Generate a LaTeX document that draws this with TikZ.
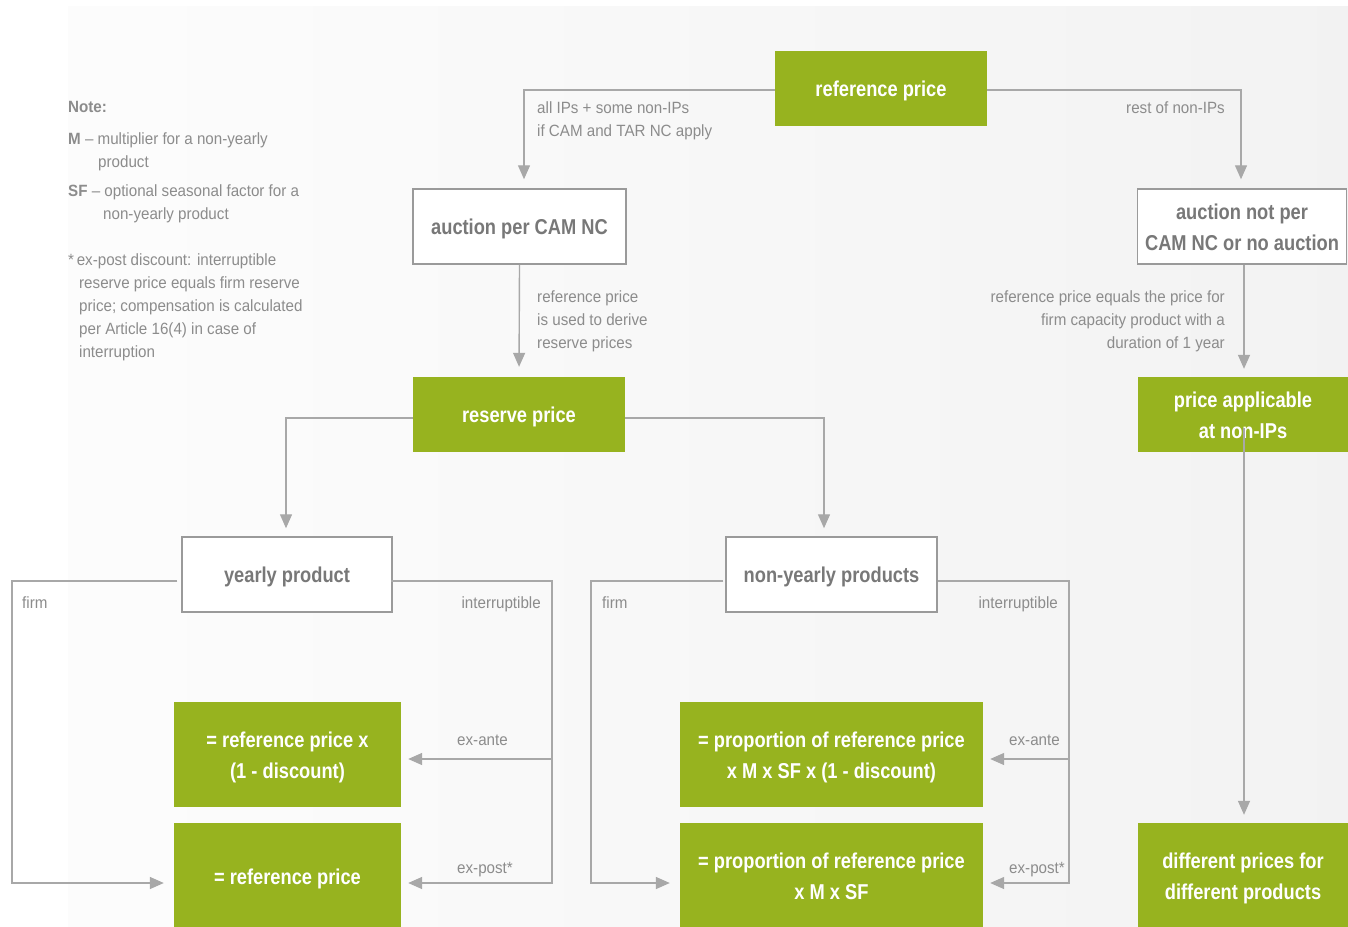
\documentclass[tikz,border=0pt]{standalone}
\usepackage{fontspec}
\setmainfont{Liberation Sans}
\newfontfamily\lblfont{Liberation Sans}[FakeStretch=0.93]
\newfontfamily\boxfont{Liberation Sans}[FakeStretch=0.85]
\usetikzlibrary{arrows.meta,calc}
\definecolor{gbox}{HTML}{97B31F}
\definecolor{lblgray}{HTML}{8C8C8C}
\definecolor{boxtext}{HTML}{787878}
\definecolor{linegray}{HTML}{A8A8A8}
\definecolor{bordergray}{HTML}{9A9A9A}
\newcommand{\topst}{\rule{0pt}{21pt}}
\newcommand{\botst}{\rule[-5pt]{0pt}{5pt}}
\tikzset{
  greenbox/.style={fill=gbox, text=white, font=\boxfont\bfseries\fontsize{21.5}{31}\selectfont, align=center, inner sep=0pt},
  whitebox/.style={draw=bordergray, line width=1.5pt, fill=white, text=boxtext, font=\boxfont\bfseries\fontsize{21.5}{31}\selectfont, align=center, inner sep=0pt},
  conn/.style={draw=linegray, line width=1.4pt, -{Triangle[length=14pt,width=12pt]}},
  lbl/.style={text=lblgray, font=\lblfont\fontsize{16.3}{23}\selectfont, inner sep=0pt},
}
\begin{document}
\begin{tikzpicture}[x=1pt,y=-1pt]
\useasboundingbox (0,0) rectangle (1348,926);
\fill[white] (0,0) rectangle (1348,926);
\shade[left color=white!99!black, right color=white!95!black] (68,6) rectangle (1348,926);

% boxes
\node[greenbox, minimum width=212pt, minimum height=75pt] (rp) at (881,88.5) {\topst reference price\botst};
\node[whitebox, minimum width=213pt, minimum height=75pt] (apc) at (519.5,226.5) {\topst auction per CAM NC\botst};
\node[whitebox, minimum width=209pt, minimum height=75pt] (anp) at (1242,226.5) {\topst auction not per\\CAM NC or no auction\botst};
\node[greenbox, minimum width=212pt, minimum height=75pt] (res) at (519,414.5) {\topst reserve price\botst};
\node[greenbox, minimum width=210pt, minimum height=75pt] (pa) at (1243,414.5) {\topst price applicable\\at non-IPs\botst};
\node[whitebox, minimum width=210pt, minimum height=75pt] (yp) at (287,574.5) {\topst yearly product\botst};
\node[whitebox, minimum width=211pt, minimum height=75pt] (nyp) at (831.5,574.5) {\topst non-yearly products\botst};
\node[greenbox, minimum width=227pt, minimum height=105pt] (y1) at (287.5,754.5) {\topst = reference price x\\(1 - discount)\botst};
\node[greenbox, minimum width=227pt, minimum height=106pt] (y2) at (287.5,876) {\topst = reference price\botst};
\node[greenbox, minimum width=303pt, minimum height=105pt] (n1) at (831.5,754.5) {\topst = proportion of reference price\\x M x SF x (1 - discount)\botst};
\node[greenbox, minimum width=303pt, minimum height=106pt] (n2) at (831.5,876) {\topst = proportion of reference price\\x M x SF\botst};
\node[greenbox, minimum width=210pt, minimum height=106pt] (dp) at (1243,876) {\topst different prices for\\different products\botst};

% helper coordinates
\coordinate (yl) at (12,581);
\coordinate (yr) at (552,581);
\coordinate (nl) at (591,581);
\coordinate (nr) at (1069,581);
\coordinate (post) at (0,883);
\coordinate (ante) at (0,759);
\coordinate (pain) at (1244,428);

% connectors
\draw[conn, shorten >=9pt] (rp.west |- 0,90) -| ([xshift=4.5pt]apc.north);
\draw[conn, shorten >=9pt] (rp.east |- 0,90) -| ([xshift=-1pt]anp.north);
\draw[conn, shorten >=10pt] (apc.south) -- (res.north);
\draw[conn, shorten >=8pt] ([xshift=2pt]anp.south) -- ([xshift=2pt]anp.south |- pa.north);
\draw[conn, shorten >=8pt] (pain) -- (pain |- dp.north);
\draw[conn, shorten >=8pt] (res.west |- 0,418) -| ([xshift=-1pt]yp.north);
\draw[conn, shorten >=8pt] (res.east |- 0,418) -| ([xshift=-7.5pt]nyp.north);

\draw[conn, shorten >=10pt] ([xshift=-4pt]yp.west |- yl) -- (yl) |- (y2.west |- post);
\draw[conn, shorten >=7pt] ([xshift=-2pt]yp.east |- yr) -- (yr) |- (y2.east |- post);
\draw[conn, shorten >=7pt] (yr |- ante) -- (y1.east |- ante);
\draw[conn, shorten >=10pt] ([xshift=-2pt]nyp.west |- nl) -- (nl) |- (n2.west |- post);
\draw[conn, shorten >=7pt] (nyp.east |- nr) -- (nr) |- (n2.east |- post);
\draw[conn, shorten >=7pt] (nr |- ante) -- (n1.east |- ante);

% connector labels
\node[lbl, anchor=north west, align=left] (l1) at (537,101.5) {all IPs + some non-IPs\\if CAM and TAR NC apply};
\node[lbl, anchor=north east] (l2) at (1225,101.5) {rest of non-IPs};
\node[lbl, anchor=north west, align=left] (l3) at (537,290.5) {reference price\\is used to derive\\reserve prices};
\node[lbl, anchor=north east, align=right] (l4) at (1225,290.5) {reference price equals the price for\\firm capacity product with a\\duration of 1 year};
\node[lbl, anchor=north west] (f1) at (22,596.5) {firm};
\node[lbl, anchor=north east] (i1) at (541,596.5) {interruptible};
\node[lbl, anchor=north west] (f2) at (602,596.5) {firm};
\node[lbl, anchor=north east] (i2) at (1058,596.5) {interruptible};
\node[lbl, anchor=north west] (ea1) at (457,734.5) {ex-ante};
\node[lbl, anchor=north west] (ep1) at (457,862.5) {ex-post*};
\node[lbl, anchor=north west] (ea2) at (1009,734.5) {ex-ante};
\node[lbl, anchor=north west] (ep2) at (1009,862.5) {ex-post*};

% note
\node[lbl, anchor=north west] (nt) at (68,101.5) {\bfseries Note:};
\node[lbl, anchor=north west, align=left] (nm) at (68,132.5) {\textbf{M} – multiplier for a non-yearly\\\hspace*{30pt}product};
\node[lbl, anchor=north west, align=left] (nsf) at (68,184.5) {\textbf{SF} – optional seasonal factor for a\\\hspace*{35pt}non-yearly product};
\node[lbl, anchor=north west, align=left] (nst) at (68,253.5) {*\,ex-post discount: interruptible\\\hspace*{11pt}reserve price equals firm reserve\\\hspace*{11pt}price; compensation is calculated\\\hspace*{11pt}per Article 16(4) in case of\\\hspace*{11pt}interruption};
\end{tikzpicture}
\end{document}
